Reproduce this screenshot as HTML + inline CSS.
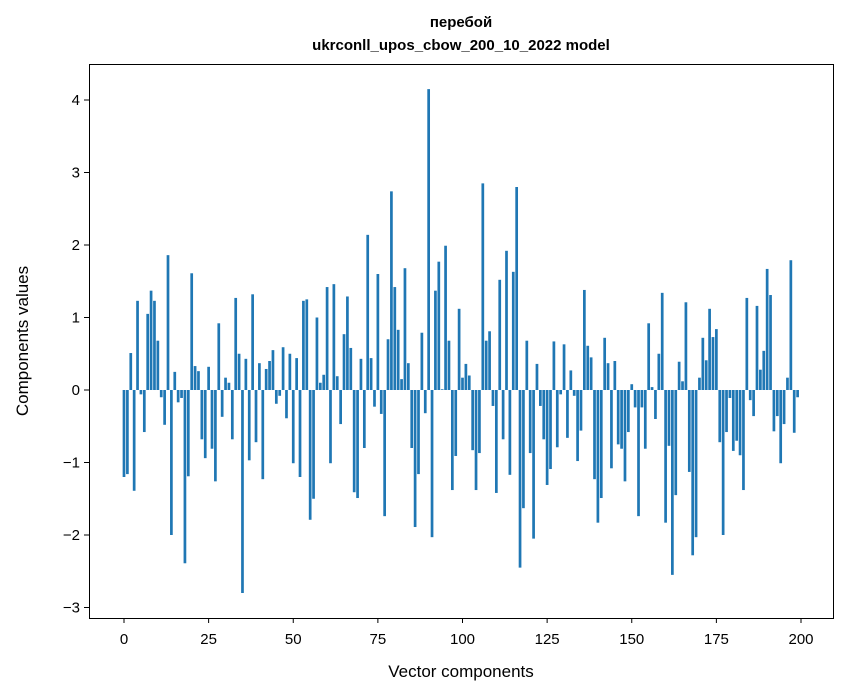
<!DOCTYPE html>
<html><head><meta charset="utf-8"><style>
body{margin:0;background:#fff;}
svg{display:block;font-family:"Liberation Sans","DejaVu Sans",sans-serif;}
</style></head><body>
<svg id="chart" width="847" height="696" viewBox="0 0 847 696">
<rect width="847" height="696" fill="#fff"/>
<text x="461" y="27" text-anchor="middle" font-size="15" font-weight="bold">перебой</text>
<text x="461" y="50" text-anchor="middle" font-size="15" font-weight="bold">ukrconll_upos_cbow_200_10_2022 model</text>
<g id="bars"></g>
<g id="xticks"></g>
<g id="yticks"></g>
<rect x="89.5" y="64.5" width="744" height="554" fill="none" stroke="#000" stroke-width="1"/>
<text x="461" y="677" text-anchor="middle" font-size="17">Vector components</text>
<text transform="translate(28,341) rotate(-90)" text-anchor="middle" font-size="17">Components values</text>
</svg>
<script>
const values = [-1.2,-1.16,0.51,-1.39,1.23,-0.06,-0.58,1.05,1.37,1.23,
0.68,-0.1,-0.48,1.86,-2.0,0.25,-0.17,-0.11,-2.39,-1.19,
1.61,0.33,0.26,-0.68,-0.94,0.32,-0.81,-1.26,0.92,-0.37,
0.17,0.1,-0.68,1.27,0.5,-2.8,0.43,-0.97,1.32,-0.72,
0.37,-1.23,0.29,0.4,0.55,-0.19,-0.08,0.59,-0.39,0.5,
-1.01,0.44,-1.2,1.23,1.25,-1.79,-1.5,1.0,0.1,0.21,
1.42,-1.01,1.46,0.19,-0.47,0.77,1.29,0.58,-1.41,-1.49,
0.43,-0.8,2.14,0.44,-0.23,1.6,-0.33,-1.74,0.7,2.74,
1.42,0.83,0.15,1.68,0.37,-0.8,-1.89,-1.16,0.79,-0.32,
4.15,-2.03,1.37,1.77,0.01,1.99,0.68,-1.38,-0.91,1.12,
0.17,0.36,0.2,-0.83,-1.38,-0.87,2.85,0.68,0.81,-0.22,
-1.42,1.52,-0.68,1.92,-1.17,1.63,2.8,-2.45,-1.63,0.68,
-0.87,-2.05,0.36,-0.22,-0.68,-1.31,-1.09,0.67,-0.79,-0.06,
0.63,-0.66,0.27,-0.08,-0.98,-0.56,1.38,0.61,0.45,-1.23,
-1.83,-1.49,0.72,0.37,-1.08,0.4,-0.75,-0.81,-1.26,-0.58,
0.08,-0.24,-1.74,-0.24,-0.81,0.92,0.04,-0.4,0.5,1.34,
-1.83,-0.77,-2.55,-1.45,0.39,0.12,1.21,-1.13,-2.28,-2.03,
0.17,0.72,0.41,1.12,0.73,0.84,-0.72,-2.0,-0.58,-0.11,
-0.84,-0.7,-0.9,-1.38,1.27,-0.14,-0.36,1.16,0.28,0.54,
1.67,1.31,-0.57,-0.36,-1.01,-0.47,0.17,1.79,-0.59,-0.1];
const xTickValues = [0,25,50,75,100,125,150,175,200];
const yTickValues = [-3,-2,-1,0,1,2,3,4];
const NS="http://www.w3.org/2000/svg";
function xScale(i){return 124+(i)*3.385;}
function yScale(v){return 390-v*72.5;}
const bw=3.385*0.8;
const bars=document.getElementById('bars');
values.forEach((v,i)=>{
  const r=document.createElementNS(NS,'rect');
  const y0=yScale(0), y1=yScale(v);
  r.setAttribute('x',xScale(i)-bw/2);
  r.setAttribute('y',Math.min(y0,y1));
  r.setAttribute('width',bw);
  r.setAttribute('height',Math.max(Math.abs(y1-y0),0.3));
  r.setAttribute('fill','#1f77b4');
  
  
  bars.appendChild(r);
});
const xt=document.getElementById('xticks');
xTickValues.forEach(t=>{
  const x=xScale(t);
  const l=document.createElementNS(NS,'line');
  l.setAttribute('x1',x);l.setAttribute('x2',x);l.setAttribute('y1',618);l.setAttribute('y2',623);
  l.setAttribute('stroke','#000');
  
  
  xt.appendChild(l);
  const tx=document.createElementNS(NS,'text');
  tx.setAttribute('x',x);tx.setAttribute('y',644);tx.setAttribute('text-anchor','middle');tx.setAttribute('font-size','15');
  tx.textContent=String(t);
  
  
  xt.appendChild(tx);
});
const yt=document.getElementById('yticks');
yTickValues.forEach(t=>{
  const y=yScale(t);
  const l=document.createElementNS(NS,'line');
  l.setAttribute('x1',84);l.setAttribute('x2',89);l.setAttribute('y1',y);l.setAttribute('y2',y);
  l.setAttribute('stroke','#000');
  
  
  yt.appendChild(l);
  const tx=document.createElementNS(NS,'text');
  tx.setAttribute('x',80);tx.setAttribute('y',y+5);tx.setAttribute('text-anchor','end');tx.setAttribute('font-size','15');
  tx.textContent=t<0?'\u2212'+Math.abs(t):String(t);
  
  
  yt.appendChild(tx);
});
</script>
</body></html>
